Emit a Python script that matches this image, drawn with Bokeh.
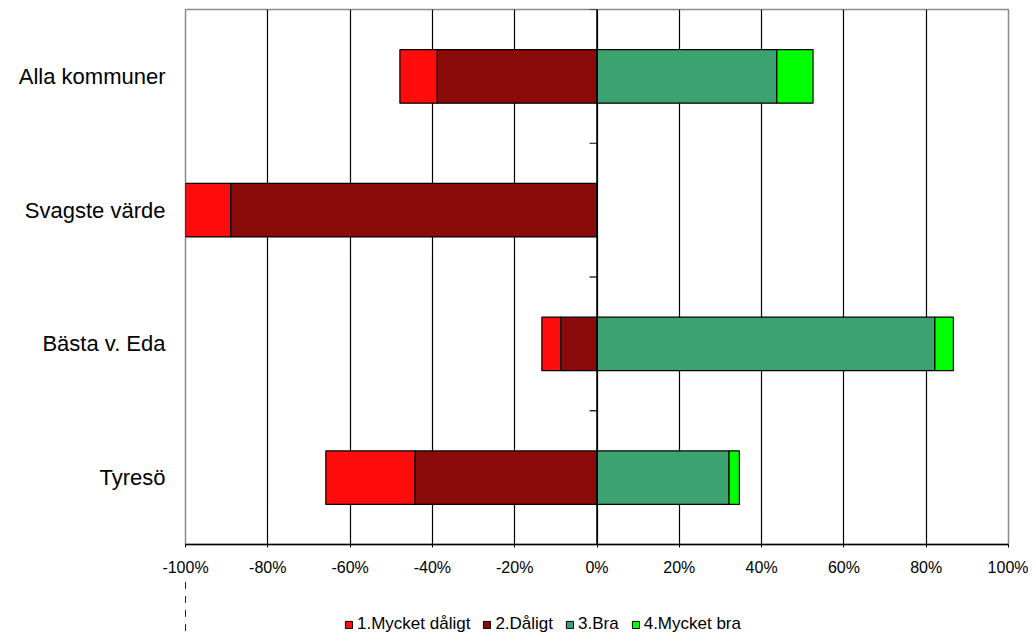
from bokeh.plotting import figure
from bokeh.layouts import column
from bokeh.models import ColumnDataSource, FixedTicker, PrintfTickFormatter, Legend, LegendItem
from bokeh.embed import file_html
from bokeh.resources import INLINE

categories = ["Alla kommuner", "Svagste värde", "Bästa v. Eda", "Tyresö"]
mycket_daligt = [9.1, 11.0, 4.6, 21.7]
daligt = [38.8, 89.0, 8.8, 44.2]
bra = [43.7, 0.0, 82.1, 32.1]
mycket_bra = [8.8, 0.0, 4.5, 2.5]
series_names = ["1.Mycket dåligt", "2.Dåligt", "3.Bra", "4.Mycket bra"]
colors = ["#ff0d0d", "#8b0a0a", "#3ca370", "#00ff00"]
x_ticks = [-100, -80, -60, -40, -20, 0, 20, 40, 60, 80, 100]

factors = list(reversed(categories))

src = ColumnDataSource(dict(
    cat=categories,
    r_left=[-(a + b) for a, b in zip(mycket_daligt, daligt)],
    r_right=[-b for b in daligt],
    d_left=[-b for b in daligt],
    d_right=[0.0] * len(categories),
    g_left=[0.0] * len(categories),
    g_right=list(bra),
    l_left=list(bra),
    l_right=[g + l for g, l in zip(bra, mycket_bra)],
))
bar_cols = [("r_left", "r_right"), ("d_left", "d_right"),
            ("g_left", "g_right"), ("l_left", "l_right")]

p = figure(y_range=factors, x_range=(-100, 100),
           frame_width=823, frame_height=535,
           min_border_left=185, min_border_top=9, min_border_right=20, min_border_bottom=34,
           output_backend="svg", toolbar_location=None)
p.background_fill_color = "white"
p.border_fill_color = "white"
p.outline_line_color = "#8c8c8c"
p.outline_line_width = 1.5

p.y_range.range_padding = 0

for (lk, rk), c in zip(bar_cols, colors):
    p.hbar(y="cat", left=lk, right=rk, height=0.4, source=src,
           fill_color=c, line_color="black", line_width=1.2)

# zero line with category separator ticks
p.segment(x0=[0], x1=[0], y0=[0], y1=[4], line_color="black", line_width=1.5)
p.segment(x0=[-1.8] * 5, x1=[0] * 5, y0=[0, 1, 2, 3, 4], y1=[0, 1, 2, 3, 4],
          line_color="black", line_width=1.2)

p.xgrid.ticker = FixedTicker(ticks=x_ticks)
p.xgrid.grid_line_color = "black"
p.xgrid.grid_line_width = 1.2
p.ygrid.grid_line_color = None

p.xaxis.ticker = FixedTicker(ticks=x_ticks)
p.xaxis.formatter = PrintfTickFormatter(format="%d%%")
p.xaxis.axis_line_color = "black"
p.xaxis.axis_line_width = 1.5
p.xaxis.major_tick_out = 3
p.xaxis.major_tick_in = 0
p.xaxis.minor_tick_line_color = None
p.xaxis.major_tick_line_color = "black"
p.xaxis.major_label_standoff = 11
p.xaxis.major_label_text_font = "Liberation Sans"
p.xaxis.major_label_text_font_size = "16px"
p.xaxis.major_label_text_color = "black"

p.yaxis.axis_line_color = None
p.yaxis.major_tick_line_color = None
p.yaxis.major_tick_out = 0
p.yaxis.major_tick_in = 0
p.yaxis.minor_tick_line_color = None
p.yaxis.major_label_standoff = 20
p.yaxis.major_label_text_font = "Liberation Sans"
p.yaxis.major_label_text_font_size = "22px"
p.yaxis.major_label_text_color = "black"

# legend strip as a separate, axis-less figure below the chart
# (its bars use the same data but lie outside its visible x range)
p2 = figure(y_range=factors, x_range=(1000, 1001),
            frame_width=823, frame_height=56,
            min_border_left=185, min_border_top=0, min_border_right=20, min_border_bottom=0,
            x_axis_location=None, y_axis_location=None,
            output_backend="svg", toolbar_location=None)
p2.outline_line_color = None
p2.background_fill_color = "white"
p2.border_fill_color = "white"
p2.xgrid.visible = False
p2.ygrid.visible = False

legend_renderers = []
for (lk, rk), c in zip(bar_cols, colors):
    r = p2.hbar(y="cat", left=lk, right=rk, height=0.4, source=src,
                fill_color=c, line_color="black", line_width=1)
    legend_renderers.append(r)

legend = Legend(items=[LegendItem(label=n, renderers=[r]) for n, r in zip(series_names, legend_renderers)],
                orientation="horizontal", location=(159, 0),
                label_text_font="Liberation Sans", label_text_font_size="17px",
                label_text_color="black",
                glyph_width=9, glyph_height=9, spacing=12, label_standoff=4,
                padding=2, margin=0, border_line_color=None,
                background_fill_alpha=0)
p2.add_layout(legend, "center")

layout = column(p, p2, spacing=0)
open("out.html", "w").write(file_html(layout, INLINE))
